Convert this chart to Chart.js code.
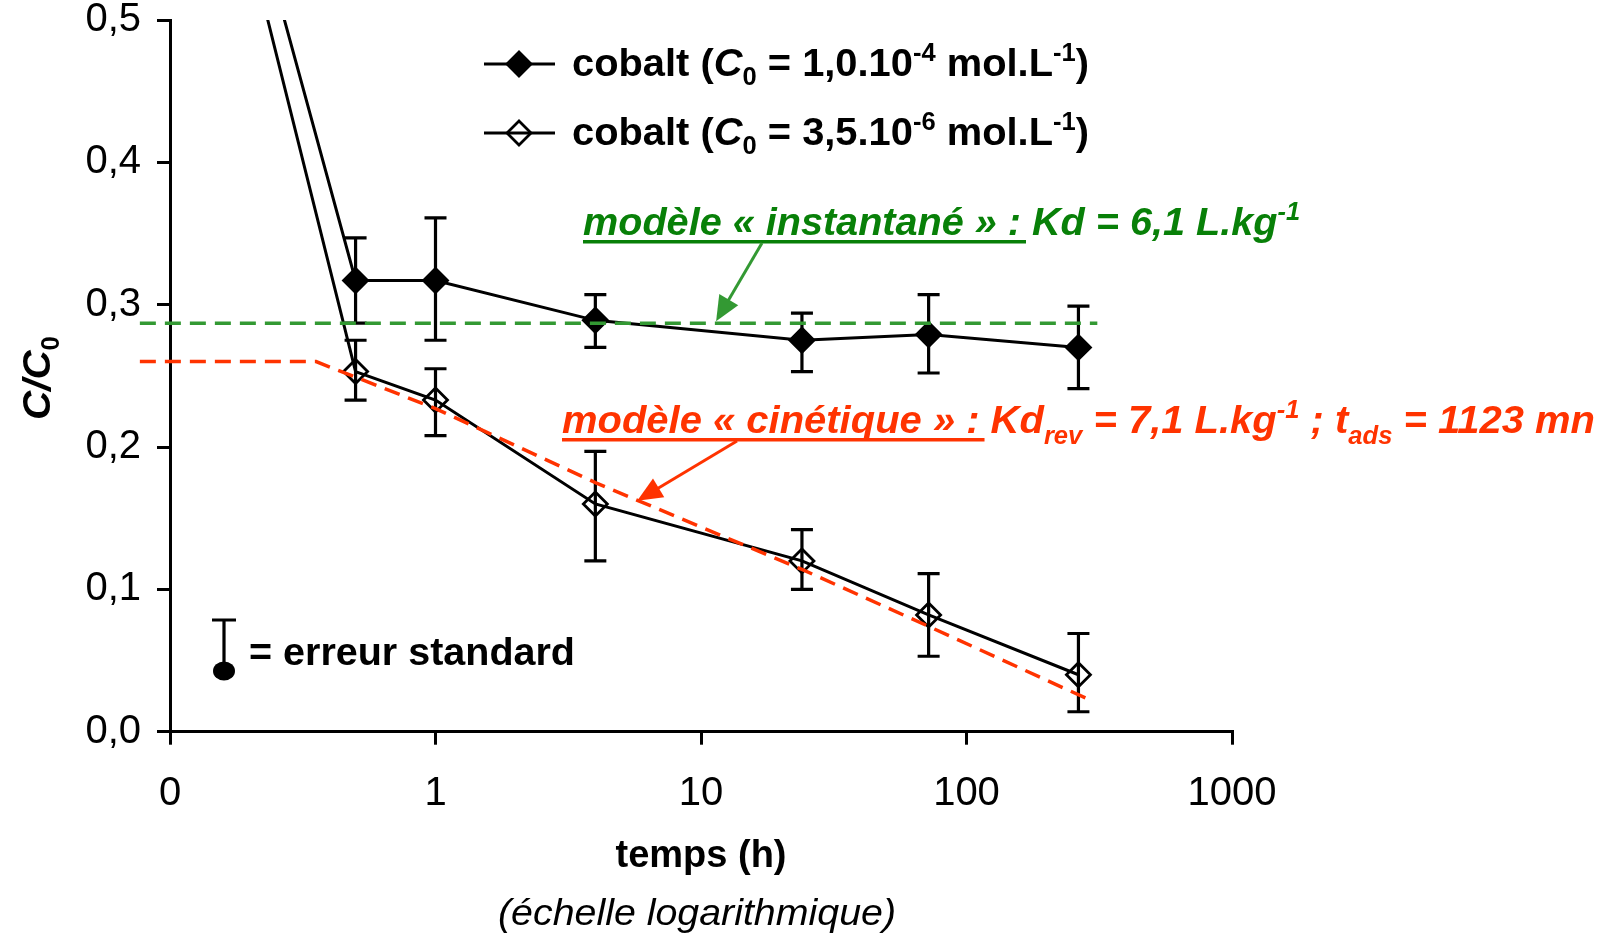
<!DOCTYPE html>
<html>
<head>
<meta charset="utf-8">
<script src="https://cdn.jsdelivr.net/npm/chart.js@4.4.1/dist/chart.umd.min.js"></script>
<style>
  html, body { margin: 0; padding: 0; background: #fff; }
  #wrap { width: 1603px; height: 937px; }
</style>
</head>
<body>
<div id="wrap"><canvas id="cobaltChart"></canvas></div>
<script>
// temps (h) ; first point (3 min) sits outside the plotted range
var times = [0.05, 0.5, 1, 4, 24, 72, 264];
var coHigh = [1, 0.317, 0.317, 0.289, 0.275, 0.279, 0.270];
var coHighErrUp = [null, 0.347, 0.361, 0.307, 0.294, 0.307, 0.299];
var coHighErrDown = [null, 0.287, 0.275, 0.270, 0.253, 0.252, 0.241];
var coLow = [1, 0.253, 0.233, 0.160, 0.120, 0.082, 0.040];
var coLowErrUp = [null, 0.275, 0.255, 0.197, 0.142, 0.111, 0.069];
var coLowErrDown = [null, 0.233, 0.208, 0.120, 0.100, 0.053, 0.014];

// model curves
var instTimes = [0.077, 311];
var instValues = [0.287, 0.287];
var kinTimes = [0.077, 0.355, 1, 4, 24, 72, 286];
var kinValues = [0.260, 0.260, 0.227, 0.175, 0.114, 0.074, 0.023];

var xTicks = [0.1, 1, 10, 100, 1000];
var xTickLabels = ['0', '1', '10', '100', '1000'];

var FONT = "'Liberation Sans', Arial, sans-serif";
var GREEN_TXT = '#088008';
var GREEN = '#339933';
var RED = '#ff3300';

function pts(xs, ys) {
  return xs.map(function (x, i) { return { x: x, y: ys[i] }; });
}

function f(style, size) {
  return style + ' ' + size + 'px ' + FONT;
}

// draws a row of text runs [text, font, dy]; optionally squeezed to a width
function drawRuns(ctx, runs, x, y, width, align) {
  var total = 0;
  runs.forEach(function (r) { ctx.font = r[1]; r.w = ctx.measureText(r[0]).width; total += r.w; });
  var k = width ? width / total : 1;
  ctx.save();
  ctx.translate(x, y);
  ctx.scale(k, 1);
  var cx = align === 'center' ? -total / 2 : 0;
  runs.forEach(function (r) {
    ctx.font = r[1];
    ctx.fillText(r[0], cx, r[2] || 0);
    cx += r.w;
  });
  ctx.restore();
  return { k: k, widths: runs.map(function (r) { return r.w * k; }) };
}

function drawArrow(ctx, x1, y1, x2, y2, color) {
  var a = Math.atan2(y2 - y1, x2 - x1), h = 25, w = 11;
  ctx.strokeStyle = color; ctx.fillStyle = color; ctx.lineWidth = 3;
  ctx.beginPath();
  ctx.moveTo(x1, y1);
  ctx.lineTo(x2 - Math.cos(a) * h * 0.8, y2 - Math.sin(a) * h * 0.8);
  ctx.stroke();
  ctx.beginPath();
  ctx.moveTo(x2, y2);
  ctx.lineTo(x2 - h * Math.cos(a) + w * Math.sin(a), y2 - h * Math.sin(a) - w * Math.cos(a));
  ctx.lineTo(x2 - h * Math.cos(a) - w * Math.sin(a), y2 - h * Math.sin(a) + w * Math.cos(a));
  ctx.closePath();
  ctx.fill();
}

function diamond(ctx, x, y, r, filled) {
  ctx.beginPath();
  ctx.moveTo(x - r, y); ctx.lineTo(x, y - r); ctx.lineTo(x + r, y); ctx.lineTo(x, y + r);
  ctx.closePath();
  if (filled) { ctx.fillStyle = '#000'; ctx.fill(); }
  ctx.strokeStyle = '#000'; ctx.lineWidth = 2.8; ctx.stroke();
}

var errorBars = {
  id: 'errorBars',
  beforeDatasetsDraw: function (chart) {
    var ctx = chart.ctx, xs = chart.scales.x, ys = chart.scales.y;
    ctx.save();
    ctx.strokeStyle = '#000';
    ctx.lineWidth = 3.2;
    [[coHighErrUp, coHighErrDown], [coLowErrUp, coLowErrDown]].forEach(function (e) {
      times.forEach(function (t, i) {
        if (e[0][i] == null) return;
        var px = xs.getPixelForValue(t);
        var top = ys.getPixelForValue(e[0][i]), bot = ys.getPixelForValue(e[1][i]);
        ctx.beginPath();
        ctx.moveTo(px, top); ctx.lineTo(px, bot);
        ctx.moveTo(px - 11, top); ctx.lineTo(px + 11, top);
        ctx.moveTo(px - 11, bot); ctx.lineTo(px + 11, bot);
        ctx.stroke();
      });
    });
    ctx.restore();
  }
};

var annotations = {
  id: 'annotations',
  afterDraw: function (chart) {
    var ctx = chart.ctx, xs = chart.scales.x, ys = chart.scales.y;
    var B = f('bold', 39), BS = f('bold', 25), BI = f('italic bold', 39), BIS = f('italic bold', 25);
    ctx.save();
    ctx.textBaseline = 'alphabetic';
    ctx.fillStyle = '#000';

    // legend
    [[64, true, '1,0.10', '-4', 76], [133, false, '3,5.10', '-6', 145]].forEach(function (row) {
      ctx.strokeStyle = '#000'; ctx.lineWidth = 3;
      ctx.beginPath(); ctx.moveTo(484, row[0]); ctx.lineTo(555, row[0]); ctx.stroke();
      if (!row[1]) { ctx.fillStyle = '#fff'; }
      diamond(ctx, 519, row[0], 12, row[1]);
      ctx.fillStyle = '#000';
      drawRuns(ctx, [['cobalt (', B], ['C', BI], ['0', BS, 9], [' = ' + row[2], B], [row[3], BS, -15],
        [' mol.L', B], ['-1', BS, -15], [')', B]], 572, row[4], 517);
    });

    // standard error key
    ctx.strokeStyle = '#000'; ctx.lineWidth = 3.2;
    ctx.beginPath();
    ctx.moveTo(224, 620); ctx.lineTo(224, 668);
    ctx.moveTo(212, 620); ctx.lineTo(236, 620);
    ctx.stroke();
    ctx.beginPath(); ctx.ellipse(224, 671, 11, 9.5, 0, 0, Math.PI * 2); ctx.fill();
    drawRuns(ctx, [['= erreur standard', f('bold', 38)]], 249, 665, 326);

    // instantaneous model label
    ctx.fillStyle = GREEN_TXT;
    var g = drawRuns(ctx, [['modèle « instantané » :', BI], [' Kd = 6,1 L.kg', BI], ['-1', BIS, -15]], 583, 235, 717);
    ctx.fillRect(583, 240, g.widths[0] + 5, 3.5);
    drawArrow(ctx, 762, 243, xs.getPixelForValue(11.4), ys.getPixelForValue(instValues[0]) - 2, GREEN);

    // kinetic model label
    ctx.fillStyle = RED;
    var r = drawRuns(ctx, [['modèle « cinétique » :', BI], [' Kd', BI], ['rev', BIS, 11], [' = 7,1 L.kg', BI],
      ['-1', BIS, -15], [' ; t', BI], ['ads', BIS, 11], [' = 1123 mn', BI]], 562, 433, 1033);
    ctx.fillRect(562, 438, r.widths[0] + 5, 3.5);
    drawArrow(ctx, 737, 441, xs.getPixelForValue(5.75), ys.getPixelForValue(0.1623), RED);

    // axis titles
    ctx.fillStyle = '#000';
    drawRuns(ctx, [['temps (h)', f('bold', 39)]], 701, 867, 171, 'center');
    drawRuns(ctx, [['(échelle logarithmique)', f('italic', 37)]], 697, 925, 398, 'center');
    ctx.save();
    ctx.translate(50, 378);
    ctx.rotate(-Math.PI / 2);
    drawRuns(ctx, [['C/C', BI], ['0', BS, 9]], 0, 0, 84, 'center');
    ctx.restore();

    ctx.restore();
  }
};

var seriesBase = { borderColor: '#000', borderWidth: 3, pointStyle: 'rectRot', pointRadius: 12,
  pointBorderColor: '#000', pointBorderWidth: 2.8, pointHoverRadius: 12, tension: 0 };

new Chart(document.getElementById('cobaltChart'), {
  type: 'line',
  data: {
    datasets: [
      { label: 'modèle instantané', data: pts(instTimes, instValues), borderColor: GREEN, borderWidth: 3.5,
        borderDash: [16, 9], pointRadius: 0, clip: { left: 32, top: 0, right: 0, bottom: 0 } },
      { label: 'modèle cinétique', data: pts(kinTimes, kinValues), borderColor: RED, borderWidth: 3.5,
        borderDash: [16, 9], pointRadius: 0, clip: { left: 32, top: 0, right: 0, bottom: 0 } },
      Object.assign({}, seriesBase, { label: 'cobalt 1,0.10-4', data: pts(times, coHigh), pointBackgroundColor: '#000' }),
      Object.assign({}, seriesBase, { label: 'cobalt 3,5.10-6', data: pts(times, coLow), pointBackgroundColor: 'rgba(0,0,0,0)' })
    ]
  },
  options: {
    responsive: true,
    maintainAspectRatio: false,
    animation: false,
    events: [],
    layout: { padding: { top: 20, right: 371, left: 0, bottom: 0 } },
    plugins: { legend: { display: false }, tooltip: { enabled: false } },
    scales: {
      x: {
        type: 'logarithmic',
        min: 0.1,
        max: 1000,
        afterBuildTicks: function (s) { s.ticks = xTicks.map(function (v) { return { value: v }; }); },
        afterFit: function (s) { s.height = 205.3; s.paddingLeft = 0; s.paddingRight = 0; },
        ticks: {
          autoSkip: false, maxRotation: 0, color: '#000', padding: 29,
          font: { family: FONT, size: 40, lineHeight: 1 },
          callback: function (v, i) { return xTickLabels[i]; }
        },
        grid: { drawOnChartArea: false, tickLength: 13, color: '#000', lineWidth: 3 },
        border: { display: true, color: '#000', width: 3 }
      },
      y: {
        min: 0,
        max: 0.5,
        afterFit: function (s) { s.width = 170; s.paddingTop = 0; s.paddingBottom = 0; },
        ticks: {
          stepSize: 0.1, color: '#000', padding: 16,
          font: { family: FONT, size: 40, lineHeight: 1 },
          callback: function (v) { return v.toFixed(1).replace('.', ','); }
        },
        grid: { drawOnChartArea: false, tickLength: 13, color: '#000', lineWidth: 3 },
        border: { display: true, color: '#000', width: 3 }
      }
    }
  },
  plugins: [errorBars, annotations]
});
</script>
</body>
</html>
